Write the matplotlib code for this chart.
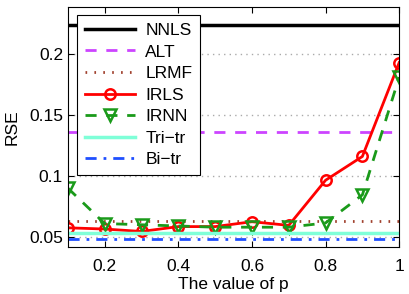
import numpy as np
import matplotlib
matplotlib.use('Agg')
import matplotlib.pyplot as plt

plt.rcParams['font.family'] = ['Liberation Sans', 'DejaVu Sans']

p = [0.1, 0.2, 0.3, 0.4, 0.5, 0.6, 0.7, 0.8, 0.9, 1.0]
irls = [0.0575, 0.0565, 0.0545, 0.0585, 0.0585, 0.0625, 0.0595, 0.0965, 0.116, 0.193]
irnn = [0.090, 0.061, 0.060, 0.059, 0.058, 0.058, 0.058, 0.0615, 0.0845, 0.181]
nnls = 0.224
alt = 0.136
lrmf = 0.063
tri_tr = 0.0533
bi_tr = 0.0485

fig = plt.figure(figsize=(4.09, 2.94), dpi=100)
ax = fig.add_axes([0.166, 0.160, 0.810, 0.816])

ax.axhline(nnls, color='black', lw=2.5, label='NNLS')
ax.axhline(alt, color='#cc44ff', lw=2, ls=(0, (4, 3.5)), label='ALT')
ax.axhline(lrmf, color='#a0402d', lw=2, ls=(0, (0.6, 2.6)), label='LRMF')
ax.plot(p, irls, color='red', lw=2, marker='o', ms=7.5, mfc='none', mew=1.8, label='IRLS')
ax.plot(p, irnn, color='#1a9a1a', lw=2, ls=(0, (4, 3.5)), marker='v', ms=9,
        mfc='none', mew=1.8, label='IRNN')
ax.axhline(tri_tr, color='#7fffd8', lw=2.5, label='Tri\u2212tr')
ax.axhline(bi_tr, color='#1f4fff', lw=2, ls=(0, (4, 2.5, 1, 2.5)), label='Bi\u2212tr')

ax.set_xlim(0.1, 1.0)
ax.set_ylim(0.0418, 0.2385)
ax.set_xticks([0.2, 0.4, 0.6, 0.8, 1.0])
ax.set_xticklabels(['0.2', '0.4', '0.6', '0.8', '1'])
ax.set_yticks([0.05, 0.1, 0.15, 0.2])
ax.set_yticklabels(['0.05', '0.1', '0.15', '0.2'])
ax.tick_params(direction='in', top=True, right=True, labelsize=12.5, length=4)
ax.tick_params(axis='x', pad=8.5)
ax.tick_params(axis='y', pad=3.5)
ax.yaxis.grid(True, color='#aaaaaa', ls=(0, (1, 3)), lw=1)
ax.set_axisbelow(True)
ax.set_xlabel('The value of p', fontsize=12.5, labelpad=2)
ax.set_ylabel('RSE', fontsize=12.5, labelpad=7)

leg = ax.legend(loc='upper left', bbox_to_anchor=(0.027, 0.967), borderaxespad=0,
                fontsize=12.5, handlelength=2.9, labelspacing=0.37, fancybox=False,
                framealpha=1, edgecolor='black', borderpad=0.45, handletextpad=0.6)
leg.get_frame().set_linewidth(0.8)

fig.savefig('out.png', dpi=100)
